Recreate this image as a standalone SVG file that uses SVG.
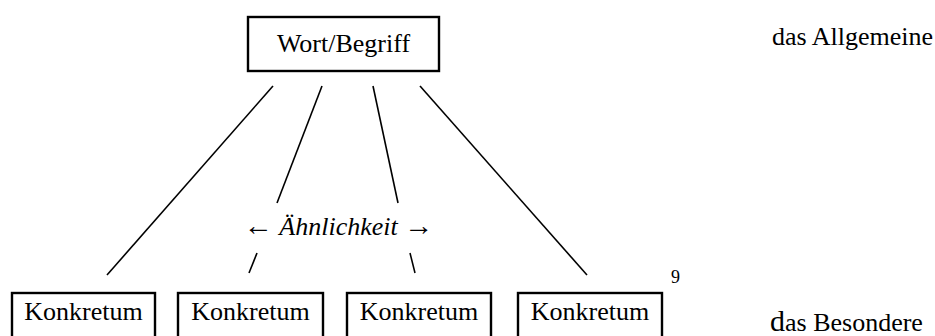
<svg xmlns="http://www.w3.org/2000/svg" width="935" height="336" viewBox="0 0 935 336">
  <style>
    .box { fill: #fff; stroke: #000; stroke-width: 2.4; }
    .edge { stroke: #000; stroke-width: 1.6; fill: none; }
    text { font-family: "Liberation Serif", "DejaVu Serif", serif; font-size: 26px; fill: #000; }
    .arrow { font-size: 29px; }
  </style>
  <rect width="935" height="336" fill="#fff"/>

  <!-- connectors -->
  <g id="connectors">
    <line class="edge" x1="273" y1="86" x2="107" y2="275"/>
    <line class="edge" x1="322" y1="86" x2="277" y2="203"/>
    <line class="edge" x1="373" y1="86" x2="398" y2="203"/>
    <line class="edge" x1="420" y1="86" x2="587" y2="275"/>
    <line class="edge" x1="257" y1="253" x2="249" y2="273"/>
    <line class="edge" x1="410" y1="253" x2="415" y2="273"/>
  </g>

  <!-- top node -->
  <g id="wort-begriff">
    <rect class="box" x="248" y="17" width="191" height="54"/>
    <text x="343.5" y="52" text-anchor="middle">Wort/Begriff</text>
  </g>

  <!-- concrete instances -->
  <g id="konkretum-1">
    <rect class="box" x="12" y="293" width="143" height="60"/>
    <text x="83.5" y="320" text-anchor="middle">Konkretum</text>
  </g>
  <g id="konkretum-2">
    <rect class="box" x="178" y="293" width="145" height="60"/>
    <text x="250.5" y="320" text-anchor="middle">Konkretum</text>
  </g>
  <g id="konkretum-3">
    <rect class="box" x="347" y="293" width="144" height="60"/>
    <text x="419" y="320" text-anchor="middle">Konkretum</text>
  </g>
  <g id="konkretum-4">
    <rect class="box" x="518" y="293" width="144" height="60"/>
    <text x="590" y="320" text-anchor="middle">Konkretum</text>
  </g>

  <!-- similarity label -->
  <g id="aehnlichkeit">
    <text x="338.5" y="235" text-anchor="middle"><tspan class="arrow">←</tspan> <tspan font-style="italic">Ähnlichkeit</tspan> <tspan class="arrow">→</tspan></text>
  </g>

  <!-- footnote mark and side labels -->
  <text x="671" y="283" style="font-size:18px">9</text>
  <text x="772" y="45">das Allgemeine</text>
  <text x="770" y="331"><tspan style="font-size:30px">d</tspan>as Besondere</text>
</svg>
